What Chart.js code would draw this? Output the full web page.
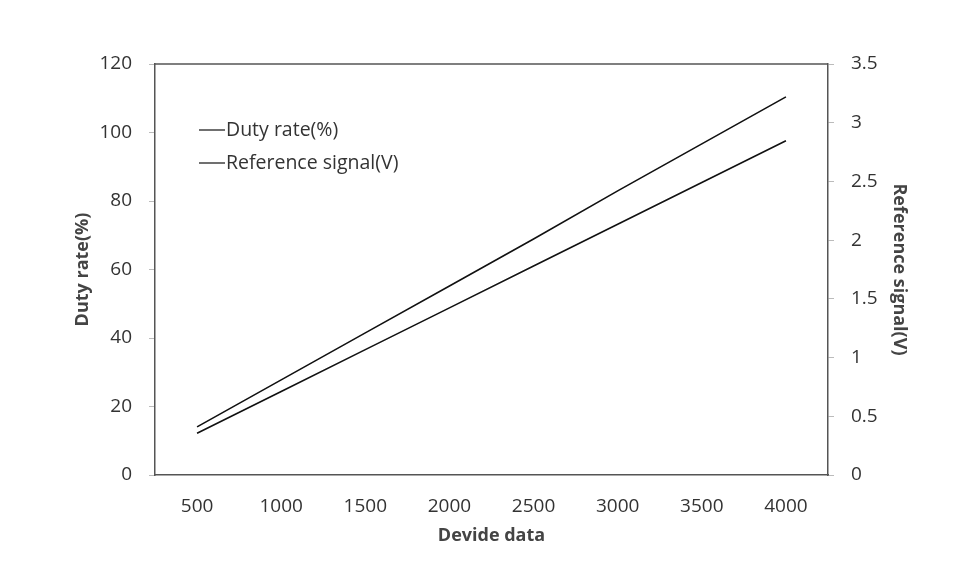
<!DOCTYPE html>
<html>
<head>
<meta charset="utf-8">
<script src="https://cdn.jsdelivr.net/npm/chart.js@4/dist/chart.umd.min.js"></script>
<style>
  html, body { margin: 0; padding: 0; background: #fff; }
  #wrap { width: 977px; height: 565px; }
</style>
</head>
<body>
<div id="wrap"><canvas id="line-chart" width="977" height="565"></canvas></div>
<script>
// values
var devideData = ['500', '1000', '1500', '2000', '2500', '3000', '3500', '4000'];
var dutyRate = [12.2, 24.4, 36.6, 48.8, 61.0, 73.2, 85.4, 97.6];
var refSignal = [0.41, 0.81, 1.21, 1.61, 2.01, 2.42, 2.82, 3.22];

var tickFont = { family: "'Open Sans', sans-serif", size: 19 };
var titleFont = { family: "'Open Sans', sans-serif", size: 18, weight: 'bold' };

// box around plot + legend inside the plot area
var frame = {
  id: 'frame',
  afterDraw: function (chart) {
    var ctx = chart.ctx, a = chart.chartArea;
    ctx.save();
    ctx.strokeStyle = '#555';
    ctx.lineWidth = 1.5;
    ctx.beginPath();
    ctx.moveTo(a.left, a.top);
    ctx.lineTo(a.right, a.top);
    ctx.stroke();

    ctx.font = "19.5px 'Open Sans', sans-serif";
    ctx.fillStyle = '#333';
    ctx.textBaseline = 'middle';
    chart.data.datasets.forEach(function (ds, i) {
      var y = a.top + 66 + i * 33;
      ctx.strokeStyle = ds.borderColor;
      ctx.lineWidth = 1.2;
      ctx.beginPath();
      ctx.moveTo(a.left + 44, y);
      ctx.lineTo(a.left + 70, y);
      ctx.stroke();
      ctx.fillText(ds.label, a.left + 71, y);
    });
    ctx.restore();
  }
};

new Chart(document.getElementById('line-chart'), {
  type: 'line',
  data: {
    labels: devideData,
    datasets: [{
        data: dutyRate,
        label: 'Duty rate(%)',
        borderColor: '#111',
        borderWidth: 1.6,
        pointRadius: 0,
        fill: false,
        yAxisID: 'y'
      }, {
        data: refSignal,
        label: 'Reference signal(V)',
        borderColor: '#111',
        borderWidth: 1.6,
        pointRadius: 0,
        fill: false,
        yAxisID: 'y1'
      }
    ]
  },
  options: {
    responsive: false,
    animation: false,
    layout: { padding: { top: 64, left: 68, right: 63, bottom: 14 } },
    plugins: {
      legend: { display: false },
      tooltip: { enabled: false }
    },
    scales: {
      x: {
        offset: true,
        grid: { display: false, drawTicks: false },
        border: { display: true, color: '#555', width: 1.5 },
        ticks: { font: tickFont, color: '#333', padding: 20, maxRotation: 0 },
        title: { display: true, text: 'Devide data', font: titleFont, color: '#444' },
        afterFit: function (s) { s.height = 76; }
      },
      y: {
        position: 'left',
        min: 0, max: 120,
        ticks: { stepSize: 20, font: tickFont, color: '#333', padding: 17 },
        grid: { drawOnChartArea: false, tickLength: 6, color: '#bbb' },
        border: { display: true, color: '#555', width: 1.5 },
        title: { display: true, text: 'Duty rate(%)', font: titleFont, color: '#444' },
        afterFit: function (s) { s.width = 87; }
      },
      y1: {
        position: 'right',
        min: 0, max: 3.5,
        ticks: {
          stepSize: 0.5, font: tickFont, color: '#333', padding: 17,
          callback: function (v) { return String(Math.round(v * 10) / 10); }
        },
        grid: { drawOnChartArea: false, tickLength: 6, color: '#bbb' },
        border: { display: true, color: '#555', width: 1.5 },
        title: { display: true, text: 'Reference signal(V)', font: titleFont, color: '#444' },
        afterFit: function (s) { s.width = 86; }
      }
    }
  },
  plugins: [frame]
});
</script>
</body>
</html>
